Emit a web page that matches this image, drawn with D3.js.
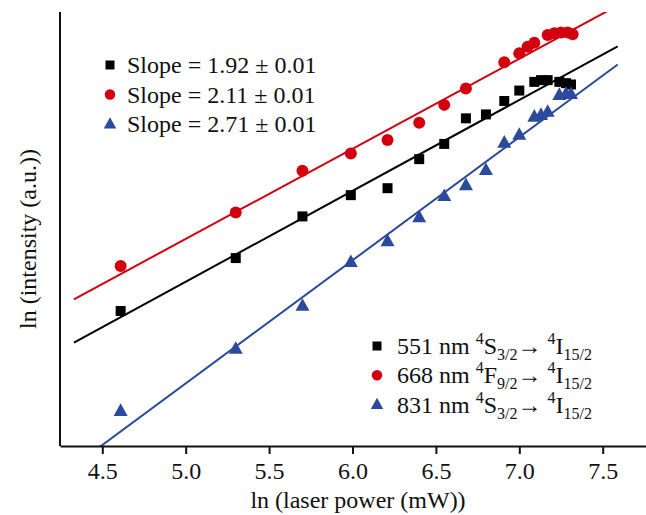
<!DOCTYPE html>
<html>
<head>
<meta charset="utf-8">
<script src="https://cdn.jsdelivr.net/npm/d3@7"></script>
<style>
  body {margin: 0; background: #fff;}
  svg text {font-family: 'Liberation Serif', 'Times New Roman', Times, serif !important; fill: #111;}
</style>
</head>
<body>
<div class="chart"></div>
<script>
// ln(laser power) / ln(intensity) (y in arbitrary units)
var lnPower = [4.61, 5.30, 5.70, 5.99, 6.21, 6.40, 6.55, 6.68, 6.80, 6.91, 7.00, 7.09, 7.13, 7.17, 7.24, 7.28, 7.31]
var ln551 = [3.11, 4.33, 5.29, 5.78, 5.94, 6.61, 6.96, 7.55, 7.64, 7.95, 8.19, 8.39, 8.43, 8.43, 8.39, 8.36, 8.33]
var lnPower668 = [4.61, 5.30, 5.70, 5.99, 6.21, 6.40, 6.55, 6.68, 6.91, 7.00, 7.05, 7.09, 7.17, 7.21, 7.25, 7.29, 7.32]
var ln668 = [4.15, 5.38, 6.34, 6.74, 7.05, 7.45, 7.86, 8.24, 8.84, 9.05, 9.20, 9.29, 9.47, 9.51, 9.53, 9.53, 9.49]
var ln831 = [0.81, 2.24, 3.23, 4.24, 4.72, 5.27, 5.76, 6.01, 6.36, 6.99, 7.17, 7.59, 7.63, 7.70, 8.09, 8.12, 8.11]

// linear fits, value at each end of fitX
var fitX = [4.33, 7.59]
var fit551 = [2.38, 9.21]
var fit668 = [3.38, 10.15]
var fit831 = [-0.46, 8.79]

var slopeLabels = ['Slope = 1.92 \u00b1 0.01', 'Slope = 2.11 \u00b1 0.01', 'Slope = 2.71 \u00b1 0.01']
var xTicks = [4.5, 5.0, 5.5, 6.0, 6.5, 7.0, 7.5]

var series = [
  {name: '551', shape: 'square', color: '#000', xs: lnPower, ys: ln551, fit: fit551,
    label: [['551 nm ', 0], ['4', 1], ['S', 0], ['3/2', -1], ['\u2192 ', 0], ['4', 1], ['I', 0], ['15/2', -1]]},
  {name: '668', shape: 'circle', color: '#d2000f', xs: lnPower668, ys: ln668, fit: fit668,
    label: [['668 nm ', 0], ['4', 1], ['F', 0], ['9/2', -1], ['\u2192 ', 0], ['4', 1], ['I', 0], ['15/2', -1]]},
  {name: '831', shape: 'triangle', color: '#2c4a9d', xs: lnPower, ys: ln831, fit: fit831,
    label: [['831 nm ', 0], ['4', 1], ['S', 0], ['3/2', -1], ['\u2192 ', 0], ['4', 1], ['I', 0], ['15/2', -1]]}
]

var W = 646, H = 515
var margin = {left: 60, top: 12, right: 0, bottom: 69}
var width = W - margin.left - margin.right
var height = H - margin.top - margin.bottom
var serif = "'Liberation Serif', 'Times New Roman', serif"

var svg = d3.select('.chart').html('').append('svg')
  .attr('width', W).attr('height', H)
var g = svg.append('g').attr('transform', `translate(${margin.left},${margin.top})`)

var x = d3.scaleLinear().domain([4.2464, 7.7596]).range([0, width])
var y = d3.scaleLinear().domain([0, 10]).range([height, 0])

g.append('clipPath').attr('id', 'plot-clip')
  .append('rect').attr('width', width).attr('height', height)

function markerPath(shape, s){
  if (shape == 'square') return `M${-s/2},${-s/2}h${s}v${s}h${-s}Z`
  if (shape == 'circle') return `M${-s/2},0a${s/2},${s/2} 0 1,0 ${s},0a${s/2},${s/2} 0 1,0 ${-s},0Z`
  var h = s*0.9
  return `M0,${-h*0.6}L${s/2},${h*0.4}L${-s/2},${h*0.4}Z`
}
var markerSize = {square: 10, circle: 12, triangle: 14}
var legendSize = {square: 9, circle: 10.5, triangle: 12.5}

// fit lines
var line = d3.line().x(d => x(d[0])).y(d => y(d[1]))
g.append('g').attr('clip-path', 'url(#plot-clip)')
  .selectAll('path').data(series).join('path')
  .attr('d', d => line(fitX.map((v, i) => [v, d.fit[i]])))
  .attr('fill', 'none')
  .attr('stroke', d => d.color)
  .attr('stroke-width', 2)

// points
series.forEach(s => {
  g.append('g').selectAll('path')
    .data(s.xs.map((v, i) => [v, s.ys[i]]))
    .join('path')
    .attr('d', markerPath(s.shape, markerSize[s.shape]))
    .attr('transform', d => `translate(${x(d[0])},${y(d[1])})`)
    .attr('fill', s.color)
})

// axes
var xAxis = g.append('g').attr('transform', `translate(0,${height})`)
  .call(d3.axisBottom(x).tickValues(xTicks).tickFormat(d3.format('.1f')).tickSize(8).tickSizeOuter(0).tickPadding(8))
xAxis.attr('font-family', null).attr('font-size', null)
xAxis.select('.domain').attr('stroke', '#111').attr('stroke-width', 2)
xAxis.selectAll('.tick line').attr('stroke', '#111').attr('stroke-width', 2)
xAxis.selectAll('.tick text').style('font-size', '24px').style('font-family', serif).attr('fill', '#111')

g.append('line').attr('x1', 0).attr('x2', 0).attr('y1', 0).attr('y2', height)
  .attr('stroke', '#111').attr('stroke-width', 2)

svg.append('text').attr('x', 358).attr('y', 508)
  .attr('text-anchor', 'middle').style('font-size', '24px')
  .text('ln (laser power (mW))')

svg.append('text')
  .attr('transform', 'translate(36,239) rotate(-90)')
  .attr('text-anchor', 'middle').style('font-size', '24px')
  .text('ln (intensity (a.u.))')

// slope legend
var leg1 = svg.append('g').attr('transform', 'translate(110,65)')
leg1.selectAll('g').data(series).join('g')
  .attr('transform', (d, i) => `translate(0,${i*29.5})`)
  .each(function(d, i){
    var sel = d3.select(this)
    sel.append('path').attr('d', markerPath(d.shape, legendSize[d.shape])).attr('fill', d.color)
    sel.append('text').attr('x', 17).attr('y', 8).style('font-size', '24px').text(slopeLabels[i])
  })

// transition legend
var leg2 = svg.append('g').attr('transform', 'translate(377,346)')
leg2.selectAll('g').data(series).join('g')
  .attr('transform', (d, i) => `translate(0,${i*29.3})`)
  .each(function(d){
    var sel = d3.select(this)
    sel.append('path').attr('d', markerPath(d.shape, legendSize[d.shape])).attr('fill', d.color)
    var t = sel.append('text').attr('x', 20).attr('y', 8).style('font-size', '24px')
    var prev = 0
    d.label.forEach(p => {
      var shift = p[1] == 1 ? -10 : p[1] == -1 ? 6 : 0
      t.append('tspan')
        .attr('dy', shift - prev)
        .style('font-size', p[1] == 0 ? '24px' : '16px')
        .text(p[0])
      prev = shift
    })
  })
</script>
</body>
</html>
